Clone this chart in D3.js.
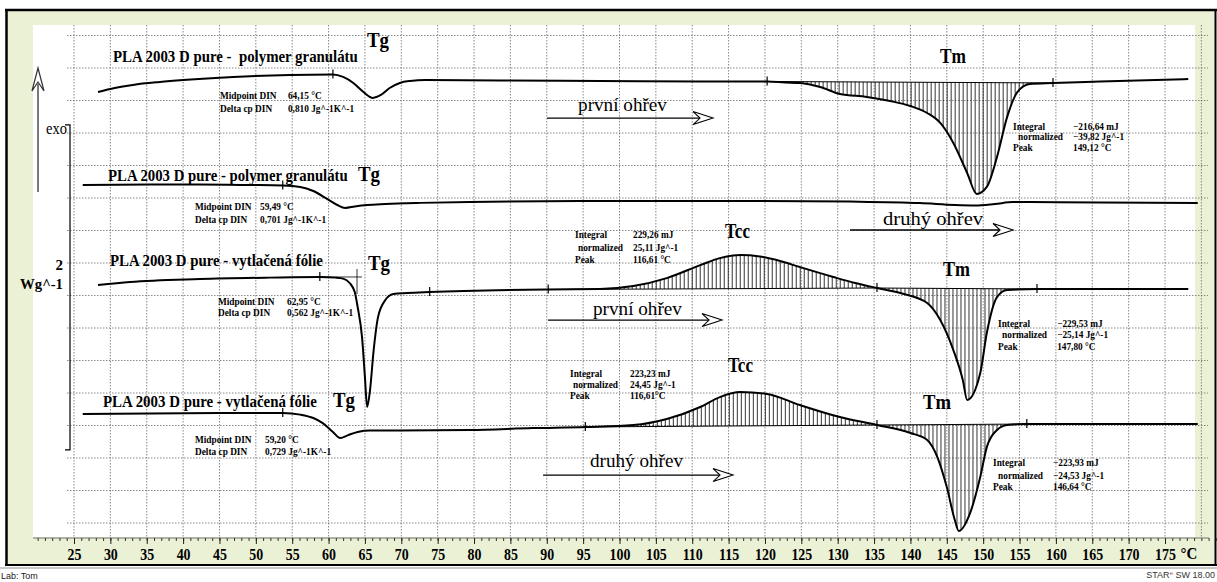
<!DOCTYPE html>
<html><head><meta charset="utf-8">
<script src="https://cdn.jsdelivr.net/npm/d3@7"></script>
<style>
html,body{margin:0;padding:0;background:#fff;}
svg{display:block;}
text{white-space:pre;}
</style></head><body>
<svg id="c" width="1217" height="582"></svg>
<script>
// ---- DSC data: temperature (°C) and heat flow (W/g) relative to each curve's baseline ----
const tempGranFirst = [28.3,30.6,33.1,36.8,40.0,46.9,54.7,60.6,62.0,63.4,64.8,66.1,67.2,68.4,69.8,71.2,73.3,83.6,97.3,111.1,120.3,122.8,124.8,127.6,130.3,134.0,137.2,140.0,142.3,144.1,145.9,147.8,149.12,150.5,151.9,153.3,154.7,156.4,159.6,166.1,178.2];
const flowGranFirst = [-0.078,-0.053,-0.034,-0.016,-0.004,0.015,0.027,0.030,0.015,-0.022,-0.078,-0.114,-0.096,-0.053,-0.022,-0.010,-0.004,-0.007,-0.010,-0.013,-0.013,-0.019,-0.022,-0.047,-0.090,-0.108,-0.133,-0.164,-0.207,-0.268,-0.391,-0.576,-0.705,-0.662,-0.478,-0.231,-0.078,-0.028,-0.022,-0.013,0.002];

const tempGranSecond = [26.2,35.4,42.3,49.2,53.7,56.1,57.9,59.8,61.2,62.3,63.6,65.3,67.8,72.6,79.4,97.3,117.9,131.7,141.3,146.1,148.9,151.6,154.1,166.1,179.5];
const flowGranSecond = [0.108,0.111,0.111,0.108,0.105,0.096,0.071,0.022,-0.015,-0.033,-0.024,-0.015,-0.009,-0.002,0.004,0.010,0.010,0.006,-0.003,-0.015,-0.018,-0.009,0.003,0.000,-0.003];

const tempFoilFirst = [28.3,32.7,42.3,51.9,58.8,60.9,62.0,62.9,63.6,64.0,64.6,65.0,65.3,65.7,66.2,66.8,67.8,68.9,70.8,73.9,90.2,97.3,101.9,106.5,111.1,113.8,116.61,119.3,122.1,124.8,129.4,132.4,135.4,138.6,142.3,144.1,145.9,147.2,147.8,149.6,150.5,151.9,153.3,157.4,178.2];
const flowFoilFirst = [0.044,0.063,0.081,0.090,0.094,0.090,0.084,0.057,0.001,-0.091,-0.276,-0.522,-0.706,-0.602,-0.356,-0.153,-0.048,-0.011,-0.005,0.001,0.017,0.020,0.038,0.087,0.167,0.210,0.229,0.220,0.192,0.155,0.094,0.057,0.026,-0.005,-0.066,-0.171,-0.356,-0.540,-0.663,-0.497,-0.251,-0.030,0.014,0.020,0.020];

const tempFoilSecond = [26.2,35.4,53.7,56.1,57.9,59.2,60.6,61.6,62.7,64.0,65.7,69.8,79.4,88.1,95.3,101.9,106.5,111.1,113.8,116.61,120.3,124.8,130.3,135.4,140.0,142.3,143.7,145.0,146.1,146.64,148.2,149.6,150.5,151.9,153.3,156.0,179.5];
const flowFoilSecond = [0.078,0.081,0.084,0.074,0.053,0.022,-0.033,-0.070,-0.052,-0.033,-0.024,-0.024,-0.021,-0.009,-0.002,0.010,0.047,0.121,0.182,0.213,0.201,0.133,0.059,0.010,-0.039,-0.082,-0.187,-0.372,-0.575,-0.642,-0.532,-0.310,-0.126,-0.021,0.010,0.016,0.016];

// vertical stacking of the four runs (W/g)
const curveOffsets = [2.73, 1.972, 1.42, 0.593];
const curveTitles = ["PLA 2003 D pure -  polymer granulátu", "PLA 2003 D pure - polymer granulátu",
                     "PLA 2003 D pure - vytlačená fólie", "PLA 2003 D pure - vytlačená fólie"];

// glass transition evaluation (DIN midpoint)
const tgMidpoint = [64.15, 59.49, 62.95, 59.20];
const tgDeltaCp  = [0.810, 0.701, 0.562, 0.729];

// peak integrations: curve index, limits (°C), results
const peakCurve      = [0, 2, 2, 3, 3];
const peakFrom       = [120.3, 90.2, 135.4, 95.3, 135.4];
const peakTo         = [159.6, 135.4, 157.4, 135.4, 156.0];
const peakIntegral   = [-216.64, 229.26, -229.53, 223.23, -223.93];
const peakNormalized = [-39.82, 25.11, -25.14, 24.45, -24.53];
const peakTemp       = [149.12, 116.61, 147.80, 116.61, 146.64];

// x axis
const xTickLabels = d3.range(25, 176, 5);

// ---- layout ----
const temps = [tempGranFirst, tempGranSecond, tempFoilFirst, tempFoilSecond];
const flows = [flowGranFirst, flowGranSecond, flowFoilFirst, flowFoilSecond];

const svg = d3.select("#c");
const W = 1217, H = 582;
const plot = {left: 33, right: 1195, top: 25, bottom: 537};
const x = d3.scaleLinear().domain([25, 175]).range([74, 1165]);
const y = d3.scaleLinear().domain([0, 3]).range([523, 35.5]);
const SERIF = "'Liberation Serif','Times New Roman',serif";
const SANS = "'Liberation Sans',Arial,sans-serif";

// text helper; a target width squeezes the glyphs horizontally
function txt(g, px, py, s, o = {}) {
  const t = g.append("text").text(s)
    .attr("font-family", o.family || SERIF)
    .attr("font-size", o.size || 10)
    .attr("font-weight", o.weight || "normal")
    .attr("fill", o.fill || "#000")
    .attr("text-anchor", o.anchor || "start");
  if (o.w) {
    const natural = t.node().getComputedTextLength() || o.w;
    t.attr("transform", `translate(${px},${py}) scale(${o.w / natural},1)`);
  } else {
    t.attr("x", px).attr("y", py);
  }
  return t;
}
const comma = v => d3.format(".2f")(v).replace(".", ",");
const comma3 = v => d3.format(".3f")(v).replace(".", ",");

function valueAt(i, T) {
  const ts = temps[i], hs = flows[i];
  const j = d3.bisectLeft(ts, T);
  let v;
  if (j <= 0) v = hs[0];
  else if (j >= ts.length) v = hs[ts.length - 1];
  else v = hs[j - 1] + (hs[j] - hs[j - 1]) * (T - ts[j - 1]) / (ts[j] - ts[j - 1]);
  return v + curveOffsets[i];
}

// background, frame
svg.append("rect").attr("width", W).attr("height", H).attr("fill", "#fff");
svg.append("rect").attr("x", 7).attr("y", 11).attr("width", 1208).attr("height", 553).attr("fill", "#ebf1d5");
svg.append("rect").attr("x", plot.left).attr("y", plot.top).attr("width", plot.right - plot.left)
  .attr("height", plot.bottom - plot.top).attr("fill", "#fff");

// grid
const grid = svg.append("g").attr("stroke", "#6a6a6a").attr("stroke-width", 0.8).attr("stroke-dasharray", "1.5,1.5");
grid.selectAll("line.gv").data(d3.range(25, 181, 5)).join("line").attr("class", "gv")
  .attr("x1", d => x(d)).attr("x2", d => x(d)).attr("y1", plot.top).attr("y2", plot.bottom + 1);
grid.selectAll("line.gh").data(d3.range(0, 3.01, 0.2)).join("line").attr("class", "gh")
  .attr("x1", 67).attr("x2", 1208).attr("y1", d => y(d)).attr("y2", d => y(d));

// frame lines
const frame = svg.append("g").attr("stroke", "#000").attr("fill", "none");
frame.append("line").attr("x1", 5).attr("x2", 1217).attr("y1", 10).attr("y2", 10).attr("stroke-width", 2.5);
frame.append("line").attr("x1", 6.5).attr("x2", 6.5).attr("y1", 9).attr("y2", 566).attr("stroke-width", 2.5);
frame.append("line").attr("x1", 1215.5).attr("x2", 1215.5).attr("y1", 9).attr("y2", 566).attr("stroke-width", 2);
frame.append("line").attr("x1", 5).attr("x2", 1217).attr("y1", 565).attr("y2", 565).attr("stroke-width", 2);
svg.append("line").attr("x1", 0).attr("x2", W).attr("y1", 568).attr("y2", 568).attr("stroke", "#b5b5b5").attr("stroke-width", 1.5);

// x axis: minor and major ticks
const axisY = 538;
svg.append("line").attr("x1", plot.left).attr("x2", 1209).attr("y1", axisY).attr("y2", axisY)
  .attr("stroke", "#555").attr("stroke-width", 0.8);
const minorAx = svg.append("g").attr("transform", `translate(0,${axisY})`)
  .call(d3.axisBottom(x).tickValues(d3.range(20, 183, 1)).tickSize(3).tickFormat(""));
minorAx.select(".domain").remove();
minorAx.selectAll("line").attr("stroke", "#333");
const majorAx = svg.append("g").attr("transform", `translate(0,${axisY})`)
  .call(d3.axisBottom(x).tickValues(xTickLabels).tickSize(6).tickPadding(4).tickFormat(d3.format("d")));
majorAx.select(".domain").remove();
majorAx.selectAll("line").attr("stroke", "#222");
majorAx.selectAll("text").attr("font-family", SERIF).attr("font-size", 17).attr("font-weight", "bold")
  .attr("fill", "#000").attr("transform", "scale(0.82,1)");
const degC = txt(svg, 0, 0, "°C", {size: 17, weight: "bold", anchor: "middle"});
degC.attr("x", null).attr("y", null).attr("transform", `translate(${x(178.3)},${axisY + 21}) scale(0.88,1)`);

// exo arrow and scale bar
svg.append("line").attr("x1", 38).attr("x2", 38).attr("y1", 84).attr("y2", 192).attr("stroke", "#7a7a7a").attr("stroke-width", 2);
svg.append("path").attr("d", "M32,91 L38,68 L44,91 L38,82 Z").attr("fill", "#fff").attr("stroke", "#333").attr("stroke-width", 1.2);
txt(svg, 46, 134, "exo", {size: 17, w: 21});
const bar = svg.append("g").attr("stroke", "#000").attr("stroke-width", 1.2).attr("fill", "none");
bar.append("path").attr("d", `M65,${y(2.45)} H70 V${y(0.45)} H65`);
txt(svg, 63, 270, "2", {size: 15, weight: "bold", anchor: "end"});
txt(svg, 63, 289, "Wg^-1", {size: 15, weight: "bold", anchor: "end", w: 43});

// integration hatching and baselines
const defs = svg.append("defs");
const hatchG = svg.append("g");
peakCurve.forEach((ci, k) => {
  const a = peakFrom[k], b = peakTo[k];
  const b0 = valueAt(ci, a), b1 = valueAt(ci, b);
  const base = T => b0 + (b1 - b0) * (T - a) / (b - a);
  const seg = [[a, b0]];
  temps[ci].forEach((T, j) => { if (T > a && T < b) seg.push([T, flows[ci][j] + curveOffsets[ci]]); });
  seg.push([b, b1]);
  const area = d3.area().x(d => x(d[0])).y0(d => y(base(d[0]))).y1(d => y(d[1])).curve(d3.curveMonotoneX);
  defs.append("clipPath").attr("id", "pk" + k).append("path").attr("d", area(seg));
  hatchG.append("g").attr("clip-path", `url(#pk${k})`)
    .selectAll("line").data(d3.range(a, b, 0.55)).join("line")
    .attr("x1", d => x(d)).attr("x2", d => x(d)).attr("y1", plot.top).attr("y2", plot.bottom)
    .attr("stroke", "#000").attr("stroke-width", 0.8);
  hatchG.append("line").attr("x1", x(a)).attr("x2", x(b)).attr("y1", y(b0)).attr("y2", y(b1))
    .attr("stroke", "#000").attr("stroke-width", 1);
});

// curves
const line = d3.line().x(d => x(d[0])).y(d => y(d[1])).curve(d3.curveMonotoneX);
temps.forEach((ts, i) => {
  const pts = ts.map((T, j) => [T, flows[i][j] + curveOffsets[i]]);
  svg.append("path").attr("d", line(pts)).attr("fill", "none").attr("stroke", "#000")
    .attr("stroke-width", 2).attr("stroke-linejoin", "round");
});

// evaluation limit marks
const limitCurve = [0, 0, 0, 1, 2, 2, 2, 2, 2, 3, 3, 3, 3];
const limitTemp  = [60.6, 120.3, 159.6, 53.7, 58.8, 73.9, 90.2, 135.4, 157.4, 53.7, 95.3, 135.4, 156.0];
svg.append("g").selectAll("line").data(limitCurve).join("line")
  .attr("x1", (c, k) => x(limitTemp[k])).attr("x2", (c, k) => x(limitTemp[k]))
  .attr("y1", (c, k) => y(valueAt(c, limitTemp[k])) - 5).attr("y2", (c, k) => y(valueAt(c, limitTemp[k])) + 4)
  .attr("stroke", "#000").attr("stroke-width", 1.2);

// tangent construction at the film Tg
const tan = svg.append("g").attr("stroke", "#000").attr("stroke-width", 0.8);
tan.append("line").attr("x1", x(58.8)).attr("x2", x(64.6)).attr("y1", y(1.514)).attr("y2", y(1.514));
tan.append("line").attr("x1", x(63.91)).attr("x2", x(63.91)).attr("y1", y(1.563)).attr("y2", y(1.409));

// titles and transition labels
const titlePos = [[30.36, 2.837, 245], [29.68, 2.105, 240], [29.95, 1.582, 213], [28.99, 0.714, 214]];
curveTitles.forEach((s, i) => txt(svg, x(titlePos[i][0]), y(titlePos[i][1]), s, {size: 17, weight: "bold", w: titlePos[i][2]}));

const markNames = ["Tg", "Tg", "Tg", "Tg", "Tm", "Tcc", "Tm", "Tcc", "Tm"];
const markPos = [[65.29, 2.929, 22], [64.05, 2.105, 22], [65.43, 1.557, 22], [60.61, 0.714, 22],
                 [144.07, 2.831, 26], [114.51, 1.754, 25], [144.49, 1.520, 27], [114.92, 0.929, 25], [141.74, 0.702, 28]];
markNames.forEach((s, i) => txt(svg, x(markPos[i][0]), y(markPos[i][1]), s, {size: 21, weight: "bold", w: markPos[i][2]}));

// Tg results
const tgPos = [[45.07, 54.42, 2.609, 2.532], [41.64, 50.58, 1.926, 1.849], [44.80, 54.29, 1.342, 1.274], [41.64, 51.26, 0.490, 0.418]];
tgMidpoint.forEach((m, i) => {
  const p = tgPos[i], o = {size: 9.3, weight: "bold"};
  txt(svg, x(p[0]), y(p[2]), "Midpoint DIN", o);
  txt(svg, x(p[1]), y(p[2]), comma(m) + " °C", o);
  txt(svg, x(p[0]), y(p[3]), "Delta cp DIN", o);
  txt(svg, x(p[1]), y(p[3]), comma3(tgDeltaCp[i]) + " Jg^-1K^-1", o);
});

// peak results
const peakPos = [[154.11, 154.80, 162.36, 2.418, 2.354, 2.289], [93.89, 94.30, 101.86, 1.754, 1.676, 1.602],
                 [152.05, 152.60, 160.17, 1.208, 1.138, 1.065], [93.20, 93.61, 101.45, 0.900, 0.831, 0.763],
                 [151.36, 152.05, 159.61, 0.351, 0.271, 0.203]];
const peakUnitGap = [" ", " ", " ", "", " "];
peakIntegral.forEach((v, k) => {
  const p = peakPos[k], o = {size: 9.3, weight: "bold"};
  txt(svg, x(p[0]), y(p[3]), "Integral", o);
  txt(svg, x(p[2]), y(p[3]), comma(v) + " mJ", o);
  txt(svg, x(p[1]), y(p[4]), "normalized", o);
  txt(svg, x(p[2]), y(p[4]), comma(peakNormalized[k]) + " Jg^-1", o);
  txt(svg, x(p[0]), y(p[5]), "Peak", o);
  txt(svg, x(p[2]), y(p[5]), comma(peakTemp[k]) + peakUnitGap[k] + "°C", o);
});

// heating-run arrows
const heatNames = ["první ohřev", "druhý ohřev", "první ohřev", "druhý ohřev"];
const heatPos = [[94.30, 2.535, 89, 90.04, 112.86, 2.492], [136.24, 1.834, 100, 131.70, 154.11, 1.803],
                 [96.36, 1.280, 89, 90.18, 114.10, 1.249], [95.95, 0.345, 93, 89.49, 115.61, 0.295]];
heatNames.forEach((s, i) => {
  const p = heatPos[i];
  txt(svg, x(p[0]), y(p[1]), s, {size: 19, w: p[2]});
  const ay = y(p[5]), x0 = x(p[3]), x1 = x(p[4]);
  svg.append("line").attr("x1", x0).attr("x2", x1 - 8).attr("y1", ay).attr("y2", ay).attr("stroke", "#000").attr("stroke-width", 1.3);
  svg.append("path").attr("d", `M${x1 - 20},${ay - 6.5} L${x1},${ay} L${x1 - 20},${ay + 6.5} L${x1 - 13},${ay} Z`)
    .attr("fill", "#fff").attr("stroke", "#000").attr("stroke-width", 1.1);
});

// status bar
txt(svg, 1, 579, "Lab: Tom", {family: SANS, size: 9, fill: "#222"});
const st = txt(svg, 1215, 578, "STAR", {family: SANS, size: 9, fill: "#333", anchor: "end"});
st.text(null);
st.append("tspan").text("STAR");
st.append("tspan").text("e").attr("font-size", 6).attr("dy", -3).attr("fill", "#c0504d");
st.append("tspan").text(" SW 18.00").attr("dy", 3);
</script>
</body></html>
